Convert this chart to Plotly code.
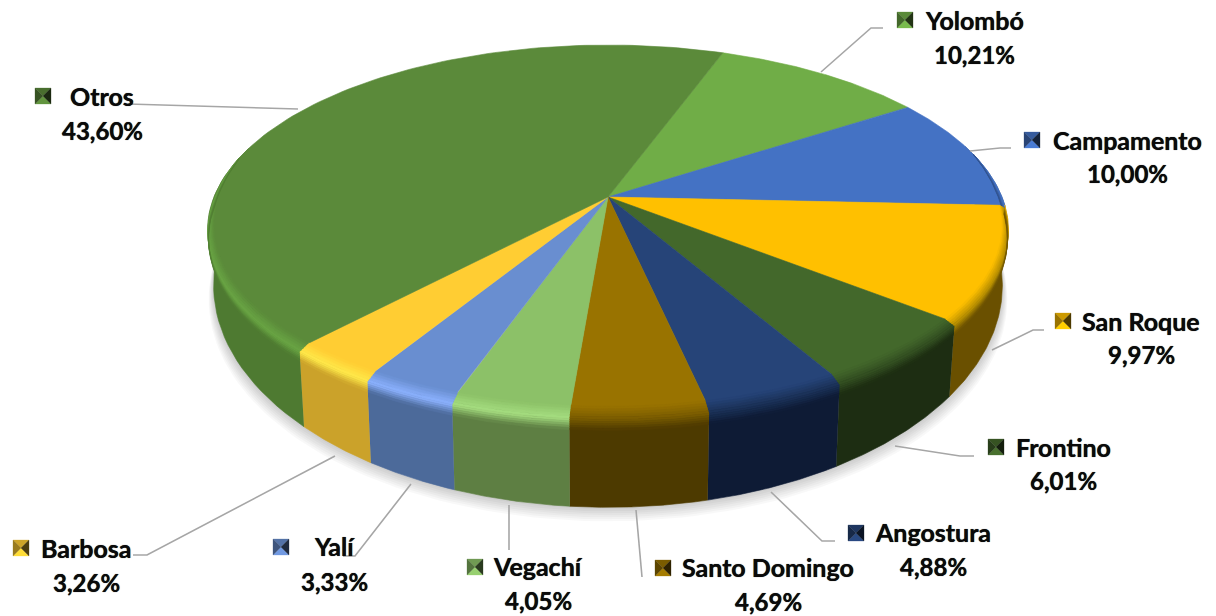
import numpy as np
import plotly.graph_objects as go

# ---- data (clockwise from the first slice) ----
labels = ["Yolombó", "Campamento", "San Roque", "Frontino", "Angostura",
          "Santo Domingo", "Vegachí", "Yalí", "Barbosa", "Otros"]
values = [10.21, 10.00, 9.97, 6.01, 4.88, 4.69, 4.05, 3.33, 3.26, 43.60]

# ---- colours ----
top_colors = ["#70ad47", "#4472c4", "#ffc000", "#43682b", "#264478",
              "#997300", "#8cc168", "#698ed0", "#ffcd33", "#5b8a3a"]
wall_colors = ["#5b8a3a", "#2f4f88", "#6a5000", "#1d2d12", "#0e1b35",
               "#4d3a00", "#5e7f43", "#4c6a9a", "#cba22a", "#4e7a31"]
rim_colors = ["#70ad47", "#4472c4", "#b08a00", "#314c20", "#1a3056",
              "#7a5c00", "#a6de80", "#8cb2ff", "#ffe94a", "#69a544"]

# ---- layout of the labels (centre x, first line y, second line y) ----
label_pos = [(974, 20, 54), (1127, 140, 173), (1141, 321, 354), (1063, 447, 480),
             (933, 532, 566), (768, 567, 601), (538, 566, 600), (334, 546, 581),
             (86, 548, 582), (102, 96, 130)]
key_pos = [(905, 20), (1032, 140), (1063, 321), (996, 447), (856, 533),
           (663, 568), (475, 567), (281, 547), (21, 548), (43, 96)]
leaders = [[(821, 72), (871, 28), (883, 28)],
           [(970, 151), (1000, 148), (1011, 148)],
           [(992, 350), (1033, 330), (1044, 330)],
           [(895, 446), (960, 456), (974, 456)],
           [(771, 492), (822, 541), (835, 541)],
           [(636, 510), (642, 577)],
           [(509, 505), (509, 550)],
           [(411, 484), (355, 556), (343, 556)],
           [(335, 456), (147, 555), (133, 555)],
           [(298, 109), (128, 104)]]

# ---- projection of the disc ----
CX, CY, RX, RY, K = 608, 197, 394, 179, 0.178
START = 19.9


def rim(th, r=1.0):
    t = np.radians(th)
    s = 1 / (1 + K * r * np.cos(t))
    return CX + RX * r * np.sin(t) * s, CY - RY * r * np.cos(t) * s


def base(x, y):
    return CX + (x - CX) * 0.985, 246 + (y - CY) * 1.2


def hex2rgb(c):
    return np.array([int(c[i:i + 2], 16) for i in (1, 3, 5)], float)


def mix(a, b, t):
    v = hex2rgb(a) * (1 - t) + hex2rgb(b) * t
    return "rgb(%d,%d,%d)" % tuple(v.round())


def scale(c, f):
    v = np.clip(hex2rgb(c) * f, 0, 255)
    return "rgb(%d,%d,%d)" % tuple(v.round())


fig = go.Figure()


def poly(x, y, color, lw=0.6):
    fig.add_trace(go.Scatter(
        x=list(x), y=list(y), mode="lines", fill="toself", fillcolor=color,
        line=dict(color=color, width=lw), hoverinfo="skip", showlegend=False))


# slice angles from the values
total = sum(values)
edges = START + np.concatenate([[0], np.cumsum(values)]) / total * 360

# soft shadow under the pie
all_th = np.linspace(0, 360, 241)
rx, ry = rim(all_th)
bx, by = base(rx, ry)
for i in range(1, 8):
    fx = 1 + 0.0018 * i
    poly(CX + (bx - CX) * fx, by + 2.0 * i, "rgba(0,0,0,0.028)", lw=0)

# side walls
for i in range(len(values)):
    th = np.linspace(edges[i], edges[i + 1], 80)
    keep = np.cos(np.radians(th)) < 0.3
    if keep.sum() < 2:
        continue
    th = th[keep]
    x0, y0 = rim(th)
    x1, y1 = base(x0, y0)
    poly(np.r_[x0, x1[::-1]], np.r_[y0, y1[::-1]], wall_colors[i])

# top of the slices
for i in range(len(values)):
    th = np.linspace(edges[i], edges[i + 1], 120)
    x0, y0 = rim(th)
    poly(np.r_[CX, x0, CX], np.r_[CY, y0, CY], top_colors[i])

# bevel along the front rim
N = 5
for i in range(len(values)):
    th = np.linspace(edges[i], edges[i + 1], 100)
    c = np.cos(np.radians(th))
    keep = c < 0.25
    if keep.sum() < 2:
        continue
    th, c = th[keep], c[keep]
    fade = np.clip((0.25 - c) / 0.25, 0, 1)
    ox, oy = rim(th)
    ix, iy = rim(th, 1 - (0.012 + 0.02 * np.clip(-c, 0, 1)) * fade)
    bx0, by0 = base(ox, oy)
    mx, my = ox + (bx0 - ox) * 0.05 * fade, oy + (by0 - oy) * 0.05 * fade
    wx, wy = ox + (bx0 - ox) * 0.17 * fade, oy + (by0 - oy) * 0.17 * fade
    for j in range(N):
        t0, t1 = j / N, (j + 1) / N
        ax, ay = ix + (mx - ix) * t0, iy + (my - iy) * t0
        dx, dy = ix + (mx - ix) * t1, iy + (my - iy) * t1
        poly(np.r_[ax, dx[::-1]], np.r_[ay, dy[::-1]],
             mix(top_colors[i], rim_colors[i], (t0 + t1) / 2))
    for j in range(N):
        t0, t1 = j / N, (j + 1) / N
        ax, ay = mx + (wx - mx) * t0, my + (wy - my) * t0
        dx, dy = mx + (wx - mx) * t1, my + (wy - my) * t1
        poly(np.r_[ax, dx[::-1]], np.r_[ay, dy[::-1]],
             mix(rim_colors[i], wall_colors[i], (t0 + t1) / 2))

# leader lines
for pts in leaders:
    fig.add_trace(go.Scatter(
        x=[p[0] for p in pts], y=[p[1] for p in pts], mode="lines",
        line=dict(color="#a6a6a6", width=1.6), hoverinfo="skip", showlegend=False))

# legend keys: small bevelled squares
H = 8
for (kx, ky), col in zip(key_pos, top_colors):
    facets = [
        ([kx - H, kx + H, kx], [ky - H, ky - H, ky], scale(col, 0.8)),
        ([kx - H, kx + H, kx], [ky + H, ky + H, ky], scale(col, 1.08)),
        ([kx - H, kx - H, kx], [ky - H, ky + H, ky], scale(col, 0.6)),
        ([kx + H, kx + H, kx], [ky - H, ky + H, ky], scale(col, 0.3)),
    ]
    for xs, ys, c in facets:
        poly(xs + xs[:1], ys + ys[:1], c, lw=0.3)

# text
annotations = []
for name, val, (tx, y1, y2) in zip(labels, values, label_pos):
    pct = f"{val:.2f}%".replace(".", ",")
    for s, y, size in ((name, y1, 25), (pct, y2, 24)):
        annotations.append(dict(
            x=tx, y=y, xref="x", yref="y", text=f"<b>{s}</b>", showarrow=False,
            xanchor="center", yanchor="middle",
            font=dict(family="Lato", size=size, color="#0a0a0a",
                      shadow="0 0 0.7px #0a0a0a")))

fig.update_layout(
    width=1216, height=616, margin=dict(l=0, r=0, t=0, b=0),
    paper_bgcolor="white", plot_bgcolor="white", showlegend=False,
    annotations=annotations,
    xaxis=dict(range=[0, 1216], visible=False, fixedrange=True),
    yaxis=dict(range=[616, 0], visible=False, fixedrange=True),
)
fig.write_html("out.html", config={"displayModeBar": False},
               post_script="document.body.style.margin='0';")
